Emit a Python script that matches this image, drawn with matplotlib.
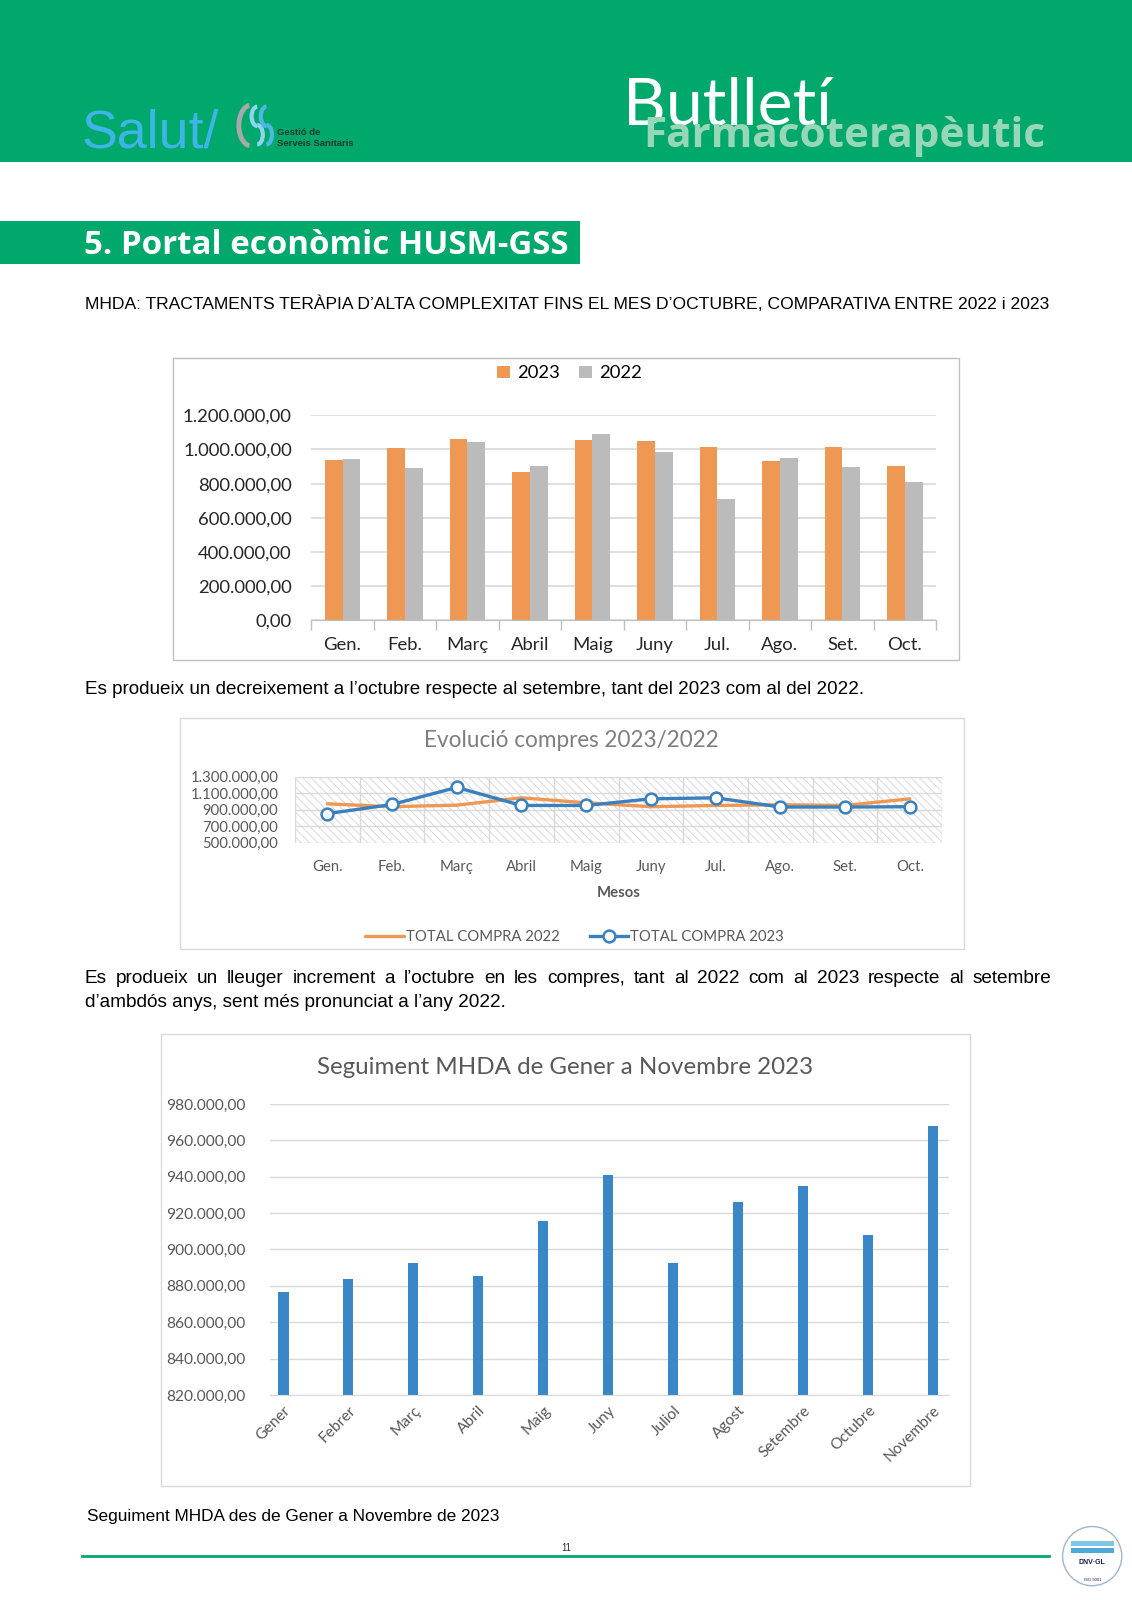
import matplotlib
matplotlib.use("Agg")
import matplotlib.pyplot as plt
from matplotlib.patches import Rectangle, Arc, Circle
from matplotlib.ticker import FuncFormatter, FixedLocator
import numpy as np

W, H = 1132, 1600
# layout positions below are measured on a 1109 x 1568 copy of the page
W0, H0 = 1109, 1568
U = W / W0

GREEN = "#00A86B"
ORANGE = "#EE9853"
GREY_BAR = "#BBBBBB"
BLUE_LINE = "#3A80BE"
BLUE_BAR = "#3A87C8"
GRID = "#D9D9D9"
LABEL = "#595959"

# chart 1: tractaments, 2023 vs 2022
months_short = ["Gen.", "Feb.", "Març", "Abril", "Maig", "Juny", "Jul.", "Ago.", "Set.", "Oct."]
tract_2023 = [940000, 1010000, 1059000, 871000, 1057000, 1051000, 1016000, 934000, 1014000, 902000]
tract_2022 = [944000, 893000, 1043000, 904000, 1090000, 985000, 711000, 951000, 895000, 808000]

# chart 2: evolucio compres
compra_2022 = [971000, 936000, 955000, 1043000, 983000, 936000, 951000, 959000, 951000, 1031000]
compra_2023 = [852000, 963000, 1169000, 951000, 951000, 1031000, 1043000, 932000, 932000, 936000]

# chart 3: seguiment MHDA 2023
months_long = ["Gener", "Febrer", "Març", "Abril", "Maig", "Juny", "Juliol", "Agost",
               "Setembre", "Octubre", "Novembre"]
mhda_2023 = [876600, 883700, 892500, 885200, 915700, 941200, 892500, 926200, 935100, 907900, 968100]


def euro_fmt(v, pos=None):
    s = f"{v:,.2f}"
    return s.replace(",", "X").replace(".", ",").replace("X", ".")


def rect(x0, y0, x1, y1):
    return [x0 / W0, 1 - y1 / H0, (x1 - x0) / W0, (y1 - y0) / H0]


fig = plt.figure(figsize=(W / 100, H / 100), dpi=100)
renderer = fig.canvas.get_renderer()
plt.rcParams["hatch.linewidth"] = 0.6

page = fig.add_axes([0, 0, 1, 1])
page.set_xlim(0, W0)
page.set_ylim(H0, 0)
page.axis("off")


def fit_text(x, y, s, width, **kw):
    t = page.text(x, y, s, fontsize=10, **kw)
    w = t.get_window_extent(renderer).width
    t.set_fontsize(10 * width * U / w)
    return t


def justify(x0, x1, y, s, fontsize, **kw):
    words = s.split()
    texts = [page.text(0, y, w, fontsize=fontsize, **kw) for w in words]
    widths = [t.get_window_extent(renderer).width / U for t in texts]
    gap = (x1 - x0 - sum(widths)) / (len(words) - 1)
    x = x0
    for t, w in zip(texts, widths):
        t.set_x(x)
        x += w + gap


# ---- header ----
page.add_patch(Rectangle((0, 0), W0, 159, color=GREEN, lw=0))
fit_text(80, 145, "Salut/", 135, color="#3DB5E6", family="Liberation Sans", va="baseline")
page.add_patch(Arc((246, 123), 24, 40, theta1=95, theta2=265, color="#A7A9AC", lw=3.5))
page.add_patch(Arc((252, 114), 11, 19, theta1=90, theta2=270, color="#8ED3EF", lw=3))
page.add_patch(Arc((252, 132), 11, 19, theta1=-90, theta2=90, color="#8ED3EF", lw=3))
page.add_patch(Arc((261, 114), 11, 19, theta1=90, theta2=270, color="#4DB8E6", lw=3))
page.add_patch(Arc((261, 132), 11, 19, theta1=-90, theta2=90, color="#4DB8E6", lw=3))
page.text(271, 132, "Gestió de", fontsize=6.8, weight="bold", color="#1D3B30",
          family="Liberation Sans", va="baseline")
page.text(271, 143, "Serveis Sanitaris", fontsize=6.8, weight="bold", color="#1D3B30",
          family="Liberation Sans", va="baseline")
fit_text(610, 122, "Butlletí", 205, color="white", family="Lato", va="baseline")
fit_text(630, 144, "Farmacoterapèutic", 395, color="#96D7B7", family="Open Sans",
         weight="bold", va="baseline")

# ---- section heading ----
page.add_patch(Rectangle((0, 217), 568, 42, color=GREEN, lw=0))
fit_text(82, 249, "5. Portal econòmic HUSM-GSS", 476, color="white", family="Open Sans",
         weight="bold", va="baseline")

fit_text(83, 303, "MHDA: TRACTAMENTS TERÀPIA D’ALTA COMPLEXITAT FINS EL MES D’OCTUBRE, "
         "COMPARATIVA ENTRE 2022 i 2023", 947, color="black",
         family="Liberation Sans", va="baseline")

# ---- chart 1 ----
page.add_patch(Rectangle((169, 351), 771, 296, fc="white", ec="#BFBFBF", lw=1))
ax1 = fig.add_axes(rect(305, 407, 917, 608))
ax1.set_facecolor("none")
x = np.arange(len(months_short))
bw = 0.285
b23 = ax1.bar(x - bw / 2, tract_2023, bw, color=ORANGE, zorder=2, label="2023")
b22 = ax1.bar(x + bw / 2, tract_2022, bw, color=GREY_BAR, zorder=2, label="2022")
ax1.set_xlim(-0.5, len(x) - 0.5)
ax1.set_ylim(0, 1200000)
ax1.set_yticks(np.arange(0, 1200001, 200000))
ax1.yaxis.set_major_formatter(FuncFormatter(euro_fmt))
ax1.grid(axis="y", color=GRID, lw=1.2, zorder=0)
ax1.set_axisbelow(True)
ax1.set_xticks(x)
ax1.set_xticklabels(months_short)
ax1.xaxis.set_minor_locator(FixedLocator(np.arange(-0.5, len(x), 1)))
ax1.tick_params(axis="x", which="major", length=0, pad=12)
ax1.tick_params(axis="x", which="minor", length=7, color="#BFBFBF", width=1)
ax1.tick_params(axis="y", length=0, pad=14)
for lab in ax1.get_xticklabels() + ax1.get_yticklabels():
    lab.set_family("Lato")
    lab.set_fontsize(13.3)
    lab.set_color("#262626")
for s in ["top", "right", "left"]:
    ax1.spines[s].set_visible(False)
ax1.spines["bottom"].set_color("#BFBFBF")
fig.legend(handles=[b23, b22], loc="center", bbox_to_anchor=(558 / W0, 1 - 366 / H0), ncol=2,
           frameon=False, prop={"family": "Lato", "size": 13.3}, handlelength=0.7,
           handleheight=0.7, handletextpad=0.4, columnspacing=1.0)

fit_text(83, 680, "Es produeix un decreixement a l’octubre respecte al setembre, tant del 2023 "
         "com al del 2022.", 770, color="black", family="Liberation Sans", va="baseline")

# ---- chart 2 ----
page.add_patch(Rectangle((176, 704), 768, 226, fc="white", ec="#D9D9D9", lw=1))
fit_text(415, 732, "Evolució compres 2023/2022", 290, color="#7F7F7F", family="Lato",
         va="baseline")
ax2 = fig.add_axes(rect(289, 761, 923, 826))
ax2.set_facecolor("white")
ax2.add_patch(Rectangle((0, 0), 1, 1, transform=ax2.transAxes, fc="white", ec="#D4D4D4",
                        lw=0, hatch="\\\\\\\\", zorder=0.1))
ax2.plot(x, compra_2022, color=ORANGE, lw=2.4, zorder=2, label="TOTAL COMPRA 2022",
         solid_capstyle="round")
ax2.plot(x, compra_2023, color=BLUE_LINE, lw=2.4, zorder=3, marker="o", ms=8.5,
         mfc="white", mec=BLUE_LINE, mew=1.8, label="TOTAL COMPRA 2023")
ax2.set_xlim(-0.5, len(x) - 0.5)
ax2.set_ylim(500000, 1300000)
ax2.set_yticks(np.arange(500000, 1300001, 200000))
ax2.yaxis.set_major_formatter(FuncFormatter(euro_fmt))
ax2.set_xticks(x)
ax2.set_xticklabels(months_short)
ax2.xaxis.set_minor_locator(FixedLocator(np.arange(-0.5, len(x), 1)))
ax2.grid(axis="y", color=GRID, lw=1, zorder=0.5)
ax2.grid(axis="x", which="minor", color=GRID, lw=1, zorder=0.5)
ax2.set_axisbelow(True)
ax2.tick_params(axis="both", which="both", length=0)
ax2.tick_params(axis="x", pad=12)
ax2.tick_params(axis="y", pad=12)
for lab in ax2.get_xticklabels() + ax2.get_yticklabels():
    lab.set_family("Lato")
    lab.set_fontsize(10.7)
    lab.set_color(LABEL)
for s in ["top", "right", "left", "bottom"]:
    ax2.spines[s].set_visible(False)
ax2.set_xlabel("Mesos", family="Lato", fontsize=10.7, weight="bold", color=LABEL, labelpad=9)
h2 = ax2.get_legend_handles_labels()[0]
fig.legend(handles=h2, loc="center", bbox_to_anchor=(563 / W0, 1 - 918 / H0), ncol=2,
           frameon=False, prop={"family": "Lato", "size": 10.7}, handlelength=2.6,
           handletextpad=0.15, columnspacing=2.0, labelcolor=LABEL)

fit_text(83, 987, "d’ambdós anys, sent més pronunciat a l’any 2022.", 414, color="black",
         family="Liberation Sans", va="baseline")
fs_par = page.texts[-1].get_fontsize()
justify(83, 1030, 963, "Es produeix un lleuger increment a l’octubre en les compres, tant al "
        "2022 com al 2023 respecte al setembre", fs_par, color="black",
        family="Liberation Sans", va="baseline")

# ---- chart 3 ----
page.add_patch(Rectangle((158, 1013), 792, 443, fc="white", ec="#D9D9D9", lw=1))
fit_text(311, 1053, "Seguiment MHDA de Gener a Novembre 2023", 486, color="#595959",
         family="Lato", va="baseline")
ax3 = fig.add_axes(rect(265, 1082, 930, 1367))
ax3.set_facecolor("none")
x3 = np.arange(len(months_long))
ax3.bar(x3, mhda_2023, 0.155, color=BLUE_BAR, zorder=2)
ax3.set_xlim(-0.2, len(x3) - 0.75)
ax3.set_ylim(820000, 980000)
ax3.set_yticks(np.arange(820000, 980001, 20000))
ax3.yaxis.set_major_formatter(FuncFormatter(euro_fmt))
ax3.grid(axis="y", color=GRID, lw=1, zorder=0)
ax3.set_axisbelow(True)
ax3.set_xticks(x3)
ax3.set_xticklabels(months_long, rotation=45, ha="right", va="top", rotation_mode="anchor")
ax3.tick_params(axis="both", length=0)
ax3.tick_params(axis="x", pad=6)
ax3.tick_params(axis="y", pad=18)
for lab in ax3.get_xticklabels() + ax3.get_yticklabels():
    lab.set_family("Lato")
    lab.set_fontsize(11.2)
    lab.set_color(LABEL)
for s in ["top", "right", "left"]:
    ax3.spines[s].set_visible(False)
ax3.spines["bottom"].set_color(GRID)

fit_text(85, 1491, "Seguiment MHDA des de Gener a Novembre de 2023", 405, color="black",
         family="Liberation Sans", va="baseline")

# ---- footer ----
page.plot([80, 1028], [1525, 1525], color=GREEN, lw=2)
page.text(555, 1520, "11", fontsize=7, color="#333333", ha="center", va="baseline",
          family="Liberation Sans")
page.add_patch(Circle((1070, 1525), 29, fc="white", ec="#9FB8C8", lw=1))
page.add_patch(Rectangle((1049, 1510), 42, 5, color="#7FC6E4", lw=0))
page.add_patch(Rectangle((1049, 1517), 42, 5, color="#4FA9D6", lw=0))
page.text(1070, 1531, "DNV·GL", fontsize=5, weight="bold", color="#0F204B", ha="center",
          va="center", family="Liberation Sans")
page.text(1070, 1548, "ISO 9001", fontsize=3, color="#0F204B", ha="center", va="center",
          family="Liberation Sans")

fig.savefig("out.png", dpi=100)
